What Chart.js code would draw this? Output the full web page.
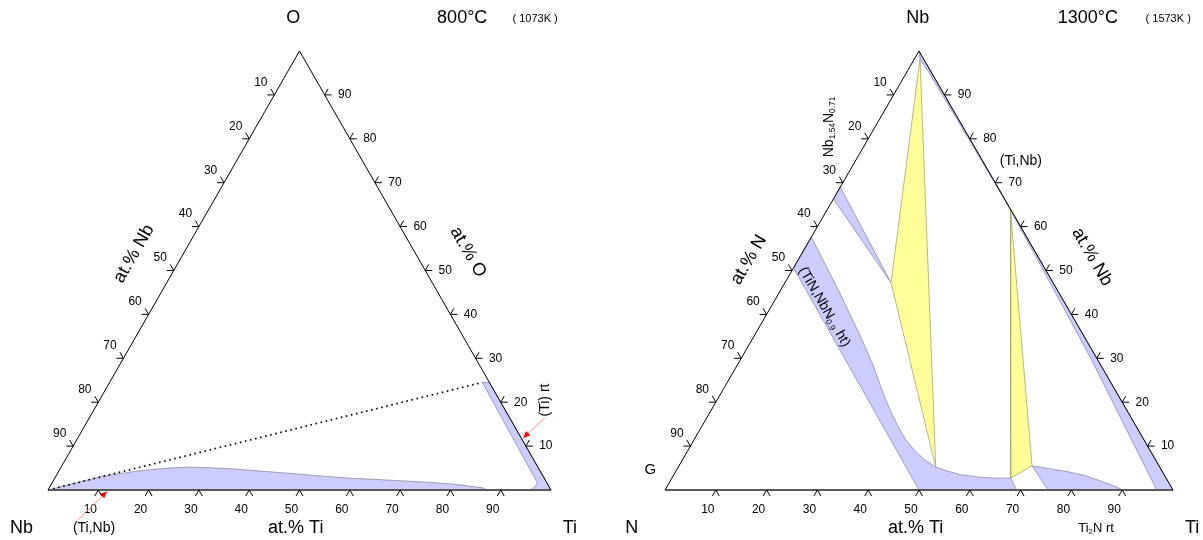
<!DOCTYPE html>
<html>
<head>
<meta charset="utf-8">
<title>Nb–Ti–O and N–Ti–Nb isothermal sections</title>
<script src="https://cdn.jsdelivr.net/npm/chart.js@4.4.0/dist/chart.umd.min.js"></script>
<style>
  html, body { margin: 0; padding: 0; background: #fff; }
  #wrap { position: relative; width: 1203px; height: 540px; overflow: hidden; }
  #wrap canvas { position: absolute; top: 0; }
</style>
</head>
<body>
<div id="wrap">
  <canvas id="sec800" width="601" height="540" style="left:0"></canvas>
  <canvas id="sec1300" width="602" height="540" style="left:601px"></canvas>
</div>
<script>
// ---------------------------------------------------------------
// Composition data. Every point is [at.% Ti, at.% of the apex element];
// the third (bottom-left) element is the remainder.
// ---------------------------------------------------------------
const tickValues = [10, 20, 30, 40, 50, 60, 70, 80, 90];

// 800 °C section: Nb (left) – Ti (right) – O (apex)
const corners800 = ['Nb', 'Ti', 'O'];
const bccBoundary800 = [
  [0, 0], [4, 1.35], [8.9, 3.0], [14.9, 4.2], [18.0, 4.6], [21.5, 5.0], [25.0, 5.2], [29.0, 5.1],
  [34.4, 4.8], [41.4, 4.2], [48.3, 3.6], [53.5, 3.1], [58.7, 2.7], [64, 2.4], [69.0, 2.1], [74, 1.8],
  [79.2, 1.4], [83.4, 0.9], [86.1, 0.5], [87.3, 0], [0, 0]
];
const hcpTi800 = [
  [75.5, 24.5], [74.1, 24.5], [96.5, 1.6], [96.45, 0.9], [96.2, 0.35], [95.9, 0],
  [100, 0], [75.5, 24.5]
];
const tieLine800 = [[0, 0], [74.1, 24.5]];

// 1300 °C section: N (left) – Ti (right) – Nb (apex)
const corners1300 = ['N', 'Ti', 'Nb'];
const bccStrip1300 = [
  [0, 100], [1.1, 98.2], [4.5, 95], [14.7, 85], [27.85, 72], [36.1, 63.8],
  [49.5, 50], [69.2, 29.6], [82.8, 15], [96.8, 0], [100, 0], [0, 100]
];
const nb2nWedge1300 = [[0, 69.0], [20.9, 47.2], [0, 66.3], [0, 69.0]];
const deltaBand1300 = [
  [0, 57.6], [11.3, 45.6], [20.7, 35.3], [26.7, 28.5], [31.3, 22.8], [35.2, 18.2],
  [38.7, 14.4], [41.7, 11.4], [44.8, 8.9], [47.8, 6.8], [50.7, 5.2], [53.5, 4.3],
  [56.3, 3.5], [60.6, 2.9], [63.6, 2.7], [66.7, 2.7], [69.2, 0],
  [50.0, 0], [0, 50.6], [0, 57.6]
];
const triangleA1300 = [[1.1, 98.2], [20.9, 47.2], [50.7, 5.2], [1.1, 98.2]];
const triangleB1300 = [[36.1, 63.8], [66.7, 2.7], [69.5, 5.5], [36.1, 63.8]];
const ti2n1300 = [
  [69.5, 5.5], [75.4, 0], [90.1, 0], [88, 0.9], [84.6, 2.1], [81, 3.3],
  [77, 4.2], [73, 4.9], [69.5, 5.5]
];

// Triangle outline (apex, left corner, right corner)
const frameLeftEdge = [[0, 100], [0, 0]];
const frameRightEdge = [[0, 100], [100, 0]];
const frameBase = [[0, 0], [100, 0]];

// Text placed in composition space: [at.% Ti, at.% apex]
const labels800 = [
  { parts: [{ t: 'Nb' }], at: [-0.9, -8.7], size: 18 },
  { parts: [{ t: 'Ti' }], at: [108.1, -8.7], size: 18 },
  { parts: [{ t: 'O' }], at: [-5.0, 107.5], size: 18 },
  { parts: [{ t: '800°C' }], at: [28.6, 107.5], size: 18 },
  { parts: [{ t: '( 1073K )' }], at: [43.2, 107.3], size: 11 },
  { parts: [{ t: 'at.% Ti' }], at: [53.6, -8.7], size: 18 },
  { parts: [{ t: 'at.% Nb' }], at: [-9.8, 53.8], size: 18, rot: -60 },
  { parts: [{ t: 'at.% O' }], at: [56.4, 54.2], size: 18, rot: 60 },
  { parts: [{ t: '(Ti,Nb)' }], at: [13.5, -8.7], size: 14 },
  { parts: [{ t: '(Ti) rt' }], at: [88.6, 20.5], size: 14, rot: -90 }
];
const arrows800 = [
  { from: [9.4, -6.8], to: [11.9, -0.3] },
  { from: [90.6, 16.4], to: [88.5, 11.85] }
];

const labels1300 = [
  { parts: [{ t: 'N' }], at: [-2.2, -8.7], size: 18 },
  { parts: [{ t: 'Ti' }], at: [108.1, -8.7], size: 18 },
  { parts: [{ t: 'Nb' }], at: [-4.0, 107.5], size: 18 },
  { parts: [{ t: '1300°C' }], at: [29.5, 107.5], size: 18 },
  { parts: [{ t: '( 1573K )' }], at: [45.4, 107.3], size: 11 },
  { parts: [{ t: 'at.% Ti' }], at: [53.7, -8.7], size: 18 },
  { parts: [{ t: 'at.% N' }], at: [-9.7, 52.4], size: 18, rot: -60 },
  { parts: [{ t: 'at.% Nb' }], at: [57.5, 53.1], size: 18, rot: 60 },
  { parts: [{ t: 'G' }], at: [-5.2, 4.6], size: 15 },
  { parts: [{ t: 'Ti' }, { t: '2', sub: true }, { t: 'N rt' }], at: [89.2, -8.7], size: 13 },
  { parts: [{ t: '(Ti,Nb)' }], at: [32.6, 74.9], size: 14 },
  { parts: [{ t: 'Nb' }, { t: '1.54', sub: true }, { t: 'N' }, { t: '0.71', sub: true }], at: [-9.1, 82.7], size: 14, rot: -90 },
  { parts: [{ t: '(TiN,NbN' }, { t: '0.9', sub: true }, { t: ' ht)' }], at: [10.5, 41.7], size: 14, rot: 60 }
];
const arrows1300 = [];

// ---------------------------------------------------------------
const BLUE = '#ccccff', BLUE_EDGE = '#8c8cb4';
const YELLOW = '#ffff99', YELLOW_EDGE = '#a5a56e';
const FONT = '"Liberation Sans", Arial, Helvetica, sans-serif';

// ternary -> cartesian (x from 0 to 1 along the base, y = apex fraction)
const toXY = pts => pts.map(([ti, top]) => ({ x: (ti + top / 2) / 100, y: top / 100 }));

function region(pts, fill, edge, order) {
  return {
    data: toXY(pts), fill: 'shape', backgroundColor: fill, borderColor: edge,
    borderWidth: 0.8, pointRadius: 0, tension: 0, clip: false, order: order
  };
}
function stroke(pts, color, width, dash, order) {
  return {
    data: toXY(pts), fill: false, borderColor: color, borderWidth: width,
    borderDash: dash || [], borderCapStyle: 'butt', pointRadius: 0, tension: 0,
    clip: false, order: order
  };
}
function frame() {
  return [
    stroke(frameLeftEdge, '#000', 1, null, 0),
    stroke(frameRightEdge, '#000', 1, null, 0),
    stroke(frameBase, '#5a5a5a', 2, null, 0)
  ];
}

function drawRich(ctx, parts, x, y, size, rot) {
  ctx.save();
  ctx.translate(x, y);
  ctx.rotate((rot || 0) * Math.PI / 180);
  ctx.textAlign = 'left';
  ctx.textBaseline = 'middle';
  const widths = parts.map(p => {
    ctx.font = (p.sub ? size * 0.6 : size) + 'px ' + FONT;
    return ctx.measureText(p.t).width;
  });
  let cx = -widths.reduce((a, b) => a + b, 0) / 2;
  parts.forEach((p, i) => {
    ctx.font = (p.sub ? size * 0.6 : size) + 'px ' + FONT;
    ctx.fillText(p.t, cx, p.sub ? size * 0.28 : 0);
    cx += widths[i];
  });
  ctx.restore();
}

const ternaryDecor = {
  id: 'ternaryDecor',
  afterDatasetsDraw(chart, args, opts) {
    const ctx = chart.ctx;
    const xs = chart.scales.x, ys = chart.scales.y;
    const px = (ti, top) => ({
      x: xs.getPixelForValue((ti + top / 2) / 100),
      y: ys.getPixelForValue(top / 100)
    });
    ctx.save();
    ctx.fillStyle = '#000';
    ctx.strokeStyle = '#000';
    ctx.lineWidth = 1;

    // chevron ticks on the three sides, with their values
    const L = 7;
    const legs = {
      bottom: [[-0.5, 0.866], [0.5, 0.866]],
      left: [[-1, 0], [-0.5, -0.866]],
      right: [[1, 0], [0.5, -0.866]]
    };
    const offs = { bottom: [-8, 20], left: [-13.5, -12.5], right: [20, 0] };
    tickValues.forEach(v => {
      const at = { bottom: px(v, 0), left: px(0, 100 - v), right: px(100 - v, v) };
      ['bottom', 'left', 'right'].forEach(side => {
        const p = at[side], g = legs[side];
        ctx.beginPath();
        ctx.moveTo(p.x + g[0][0] * L, p.y + g[0][1] * L);
        ctx.lineTo(p.x, p.y);
        ctx.lineTo(p.x + g[1][0] * L, p.y + g[1][1] * L);
        ctx.stroke();
        drawRich(ctx, [{ t: String(v) }], p.x + offs[side][0], p.y + offs[side][1], 12, 0);
      });
    });

    // pointer arrows
    (opts.arrows || []).forEach(a => {
      const s = px(a.from[0], a.from[1]), e = px(a.to[0], a.to[1]);
      const ang = Math.atan2(e.y - s.y, e.x - s.x);
      ctx.strokeStyle = '#ff8c8c';
      ctx.lineWidth = 1;
      ctx.beginPath();
      ctx.moveTo(s.x, s.y);
      ctx.lineTo(e.x - Math.cos(ang) * 4, e.y - Math.sin(ang) * 4);
      ctx.stroke();
      ctx.fillStyle = '#ff0000';
      ctx.beginPath();
      ctx.moveTo(e.x, e.y);
      ctx.lineTo(e.x - Math.cos(ang) * 7 + Math.sin(ang) * 3, e.y - Math.sin(ang) * 7 - Math.cos(ang) * 3);
      ctx.lineTo(e.x - Math.cos(ang) * 7 - Math.sin(ang) * 3, e.y - Math.sin(ang) * 7 + Math.cos(ang) * 3);
      ctx.closePath();
      ctx.fill();
    });

    // names, titles and phase labels
    ctx.fillStyle = '#000';
    (opts.labels || []).forEach(l => {
      const p = px(l.at[0], l.at[1]);
      drawRich(ctx, l.parts, p.x, p.y, l.size, l.rot);
    });
    ctx.restore();
  }
};

function makeChart(id, datasets, padding, labels, arrows) {
  return new Chart(document.getElementById(id), {
    type: 'line',
    data: { datasets: datasets },
    options: {
      responsive: false,
      animation: false,
      events: [],
      parsing: true,
      layout: { padding: padding },
      scales: {
        x: { type: 'linear', min: 0, max: 1, display: false },
        y: { type: 'linear', min: 0, max: 1, display: false }
      },
      plugins: {
        legend: { display: false },
        tooltip: { enabled: false },
        ternaryDecor: { labels: labels, arrows: arrows }
      }
    },
    plugins: [ternaryDecor]
  });
}

makeChart('sec800', [
  ...frame(),
  stroke(tieLine800, '#000', 1.6, [1.6, 3.6], 1),
  region(bccBoundary800, BLUE, '#8c8ca0', 2),
  region(hcpTi800, BLUE, BLUE_EDGE, 2)
], { left: 48, right: 50, top: 51, bottom: 50 }, labels800, arrows800);

makeChart('sec1300', [
  ...frame(),
  region(triangleA1300, YELLOW, YELLOW_EDGE, 1),
  region(triangleB1300, YELLOW, YELLOW_EDGE, 1),
  region(bccStrip1300, BLUE, BLUE_EDGE, 2),
  region(nb2nWedge1300, BLUE, BLUE_EDGE, 2),
  region(deltaBand1300, BLUE, BLUE_EDGE, 2),
  region(ti2n1300, BLUE, BLUE_EDGE, 2)
], { left: 64, right: 30, top: 51, bottom: 50 }, labels1300, arrows1300);
</script>
</body>
</html>
